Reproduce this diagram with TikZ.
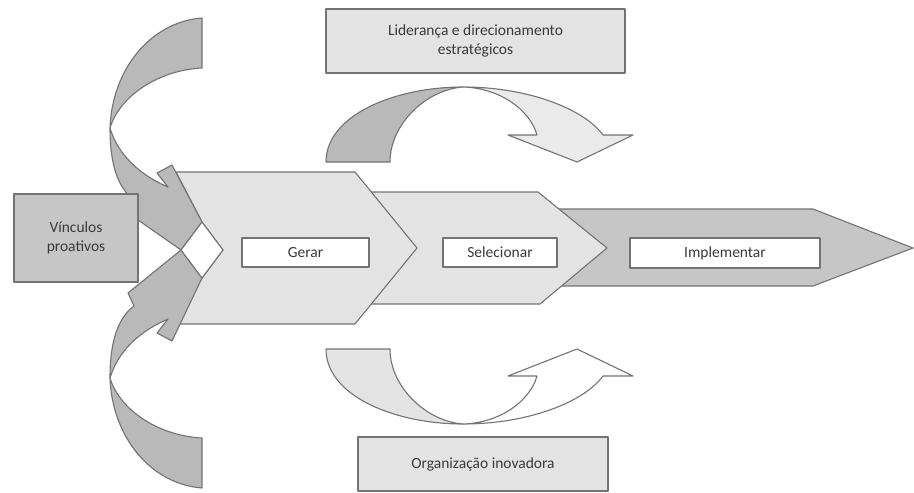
\documentclass[tikz,border=0pt]{standalone}
\usepackage{fontspec}
\setmainfont{Carlito}
\definecolor{edgec}{HTML}{737373}
\definecolor{dark}{HTML}{B9B9B9}
\definecolor{mid}{HTML}{C6C6C6}
\definecolor{light}{HTML}{E3E3E3}
\definecolor{pale}{HTML}{EAEAEA}
\definecolor{txt}{HTML}{3A3A3A}
\begin{document}
\begin{tikzpicture}[x=1pt,y=-1pt,line join=round,
  shp/.style={draw=edgec,line width=1.1pt},
  boxn/.style={shp,rectangle,inner sep=0pt,align=center,text=txt,font=\fontsize{15.5}{19}\selectfont},
  inbox/.style={boxn,fill=white}]
\useasboundingbox[fill=white] (0,0) rectangle (914,493);

% process arrows
\path[shp,fill=mid] (540,209) -- (813,209) -- (913,248) -- (813,286) -- (540,286) -- cycle;
\path[shp,fill=light] (360,192) -- (538,192) -- (607,248) -- (540,304) -- (360,304) -- cycle;
\path[shp,fill=light] (176,172) -- (355,172) -- (417,248) -- (355,324) -- (176,324) -- (202,278) -- (223,250) -- (202,222) -- cycle;

% left curved arrows (top)
\path[shp,fill=dark] (202,18) .. controls (150,22) and (112,70) .. (110,128)
   .. controls (120,95) and (160,70) .. (202,68) -- cycle;
\path[shp,fill=dark] (110,128) .. controls (118,155) and (140,175) .. (168,187)
   -- (157,173) -- (172,165) -- (202,222) -- (181,250) -- (128,213) -- (134,200)
   .. controls (118,188) and (110,165) .. (110,128) -- cycle;
% left curved arrows (bottom)
\path[shp,fill=dark] (202,488) .. controls (150,484) and (112,436) .. (110,378)
   .. controls (120,411) and (160,436) .. (202,438) -- cycle;
\path[shp,fill=dark] (110,378) .. controls (118,351) and (140,331) .. (168,319)
   -- (157,333) -- (172,341) -- (202,278) -- (181,250) -- (128,293) -- (134,306)
   .. controls (118,318) and (110,341) .. (110,378) -- cycle;
% white diamond
\path[shp,fill=white] (202,222) -- (223,250) -- (202,278) -- (181,250) -- cycle;

% top curved arrow
\path[shp,fill=dark] (326,162) .. controls (326,115) and (395,87) .. (463,87)
   .. controls (425,90) and (390,125) .. (390,162) -- cycle;
\path[shp,fill=pale] (463,87) .. controls (530,87) and (585,110) .. (603,135)
   -- (633,135) -- (577,162) -- (508,135) -- (537,135)
   .. controls (530,110) and (500,88) .. (463,87) -- cycle;
% bottom curved arrow
\path[shp,fill=light] (326,349) .. controls (326,396) and (395,424) .. (463,424)
   .. controls (425,421) and (390,386) .. (390,349) -- cycle;
\path[shp,fill=white] (463,424) .. controls (530,424) and (585,401) .. (603,376)
   -- (633,376) -- (577,349) -- (508,376) -- (537,376)
   .. controls (530,401) and (500,423) .. (463,424) -- cycle;

% boxes
\node[boxn,fill=mid,minimum width=124,minimum height=88] (vinc) at (76,238) {Vínculos\\proativos};
\node[boxn,fill=light,minimum width=299,minimum height=64] (lider) at (475.5,41) {Liderança e direcionamento\\estratégicos};
\node[boxn,fill=light,minimum width=250,minimum height=54] (org) at (483,464) {Organização inovadora};
\node[inbox,minimum width=127,minimum height=29] (gerar) at (305.5,252.5) {Gerar};
\node[inbox,minimum width=114,minimum height=29] (sel) at (500,252.5) {Selecionar};
\node[inbox,minimum width=190,minimum height=30] (impl) at (725,253) {Implementar};
\end{tikzpicture}
\end{document}
